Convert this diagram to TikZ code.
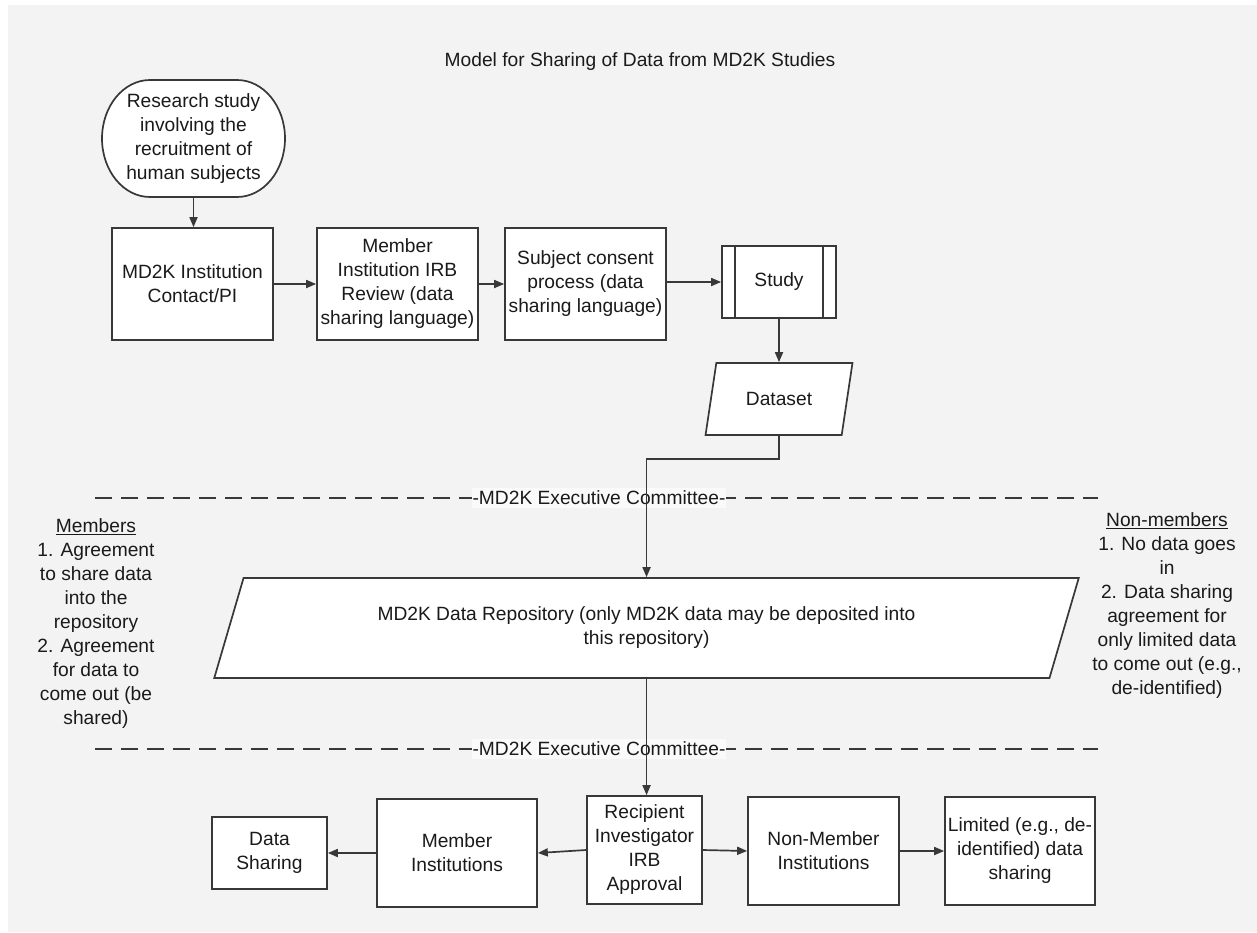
\documentclass[tikz,border=0pt]{standalone}
\usepackage{fontspec}
\setmainfont{Liberation Sans}
\usetikzlibrary{arrows.meta,shapes.geometric}
\definecolor{bg}{HTML}{F3F3F3}
\definecolor{ink}{HTML}{1A1A1A}
\definecolor{edge}{HTML}{383838}
\begin{document}
\begin{tikzpicture}[x=1pt,y=-1pt,
  every node/.style={font=\fontsize{19.2}{24}\selectfont, text=ink},
  box/.style={draw=edge, line width=1.7pt, fill=white, align=center, inner sep=0pt},
  outline/.style={draw=edge, line width=1.7pt},
  arr/.style={draw=edge, line width=1.7pt, -{Triangle[length=10pt,width=8pt]}},
  sep/.style={draw=edge, line width=1.7pt, dash pattern=on 17pt off 9pt},
  lbl/.style={fill=white!55!bg, inner xsep=1pt, inner ysep=3pt},
  note/.style={align=center, inner sep=0pt},
]
\fill[white] (0,0) rectangle (1257,932);
\fill[bg] (8,5) rectangle (1257,932);
\useasboundingbox (0,0) rectangle (1257,932);

% title
\node (title) at (640,62) {Model for Sharing of Data from MD2K Studies};

% start terminal (elliptic ends)
\draw[outline, fill=white] (150,80) -- (237,80)
  arc[start angle=-90, end angle=90, x radius=48, y radius=58.5]
  -- (150,197)
  arc[start angle=90, end angle=270, x radius=48, y radius=58.5] -- cycle;
\node[align=center, inner sep=0pt, minimum width=183pt, minimum height=117pt] (start) at (193.5,138.5)
  {Research study\\involving the\\recruitment of\\human subjects};

% top row
\node[box, minimum width=161pt, minimum height=112pt] (b1) at (192.5,284) {MD2K Institution\\Contact/PI};
\node[box, minimum width=161pt, minimum height=112pt] (b2) at (397.5,284) {Member\\Institution IRB\\Review (data\\sharing language)};
\node[box, minimum width=161pt, minimum height=112pt] (b3) at (585.5,284) {Subject consent\\process (data\\sharing language)};
\node[box, minimum width=114pt, minimum height=72pt] (study) at (779,282) {Study};
\draw[outline] ([xshift=14pt]study.north west) -- ([xshift=14pt]study.south west);
\draw[outline] ([xshift=-14pt]study.north east) -- ([xshift=-14pt]study.south east);
\node[box, trapezium, trapezium left angle=67, trapezium right angle=113, trapezium stretches=true,
  minimum width=148pt, minimum height=72pt] (ds) at (779,399) {Dataset};

% repository
\node[box, trapezium, trapezium left angle=65, trapezium right angle=115, trapezium stretches=true,
  minimum width=869pt, minimum height=100pt] (repo) at (646.5,628)
  {MD2K Data Repository (only MD2K data may be deposited into\\this repository)};

% separators
\draw[sep] (95,498) -- (1098,498);
\node[lbl] (ec1) at (599,498) {-MD2K Executive Committee-};
\draw[sep] (95,749) -- (1098,749);
\node[lbl] (ec2) at (599,749) {-MD2K Executive Committee-};

% side notes
\node[note] (memnote) at (96,623.5) {\underline{Members}\\1. Agreement\\to share data\\into the\\repository\\2. Agreement\\for data to\\come out (be\\shared)};
\node[note] (nonnote) at (1167,606) {\underline{Non-members}\\1. No data goes\\in\\2. Data sharing\\agreement for\\only limited data\\to come out (e.g.,\\de-identified)};

% bottom row
\node[box, minimum width=115pt, minimum height=108pt] (rec) at (644.5,850) {Recipient\\Investigator\\IRB\\Approval};
\node[box, minimum width=160pt, minimum height=108pt] (mem) at (457,853) {Member\\Institutions};
\node[box, minimum width=115pt, minimum height=72pt] (dsh) at (269.5,853) {Data\\Sharing};
\node[box, minimum width=151pt, minimum height=108pt] (non) at (823.5,851) {Non-Member\\Institutions};
\node[box, minimum width=150pt, minimum height=108pt] (lim) at (1020,851) {Limited (e.g., de-\\identified) data\\sharing};

% connectors
\draw[arr] (start.south) -- (start.south |- b1.north);
\draw[arr] (b1.east) -- (b2.west);
\draw[arr] (b2.east) -- (b3.west);
\draw[arr] (b3.east |- study.west) -- (study.west);
\draw[arr] (study.south) -- (ds.north);
\draw[arr] (ds.south) -- ++(0,23) -| (repo.north);
\draw[arr] (repo.south) -- (repo.south |- rec.north);
\draw[arr] (rec.west) -- (mem.east);
\draw[arr] (mem.west) -- (dsh.east);
\draw[arr] (rec.east) -- (non.west);
\draw[arr] (non.east) -- (lim.west);
\end{tikzpicture}
\end{document}
